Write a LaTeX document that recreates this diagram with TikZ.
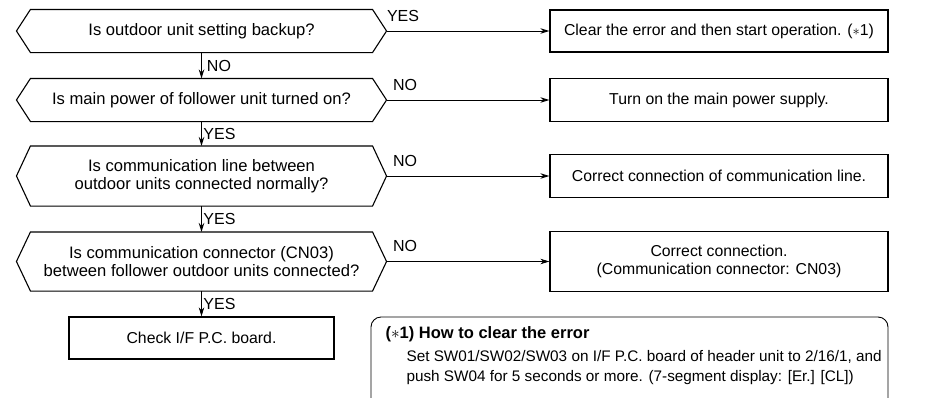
\documentclass[tikz,border=0pt]{standalone}
\usepackage{fontspec}
\setmainfont{Liberation Sans}
\usetikzlibrary{arrows.meta}
\begin{document}
\begin{tikzpicture}[x=1pt,y=-1pt,
  font=\fontsize{16.6}{18.5}\selectfont,
  line width=1.1pt,
  hexq/.style={minimum width=369pt, minimum height=#1, inner sep=0pt, align=center},
  rbox/.style={draw, line width=1.3pt, minimum width=338pt, minimum height=#1, inner sep=0pt, align=center, font=\fontsize{15.8}{18}\selectfont},
  arr/.style={line width=0.9pt, -{Stealth[length=9pt,width=5.5pt]}},
  lab/.style={font=\fontsize{16}{18}\selectfont, inner sep=0pt}]
\useasboundingbox (0,0) rectangle (948,397);
% decisions
\node[hexq=42pt] (h1) at (201.5,31) {Is outdoor unit setting backup?};
\node[hexq=42pt] (h2) at (201.5,100) {Is main power of follower unit turned on?};
\node[hexq=59pt] (h3) at (201.5,176) {Is communication line between\\outdoor units connected normally?};
\node[hexq=58pt] (h4) at (201.5,261.5) {Is communication connector (CN03)\\between follower outdoor units connected?};
\foreach \n in {h1,h2,h3,h4}
  \draw (\n.west) -- ([xshift=14pt]\n.north west) -- ([xshift=-14pt]\n.north east) -- (\n.east)
        -- ([xshift=-14pt]\n.south east) -- ([xshift=14pt]\n.south west) -- cycle;
% actions
\node[rbox=42pt] (b1) at (719,31) {Clear the error and then start operation. ($\ast$1)};
\node[rbox=43pt] (b2) at (719,100) {Turn on the main power supply.};
\node[rbox=43pt] (b3) at (719,176) {Correct connection of communication line.};
\node[rbox=60pt] (b4) at (719,261.5) {Correct connection.\\(Communication connector: CN03)};
\node[rbox=42pt, minimum width=265pt] (c) at (201.5,338) {Check I/F P.C. board.};
% vertical connectors
\draw[arr] (h1.south) -- (h2.north) node[midway, right, lab, xshift=5pt] {NO};
\draw[arr] (h2.south) -- (h3.north) node[midway, right, lab, xshift=1.5pt] {YES};
\draw[arr] (h3.south) -- (h4.north) node[midway, right, lab, xshift=1.5pt] {YES};
\draw[arr] (h4.south) -- (c.north) node[midway, right, lab, xshift=1.5pt] {YES};
% horizontal connectors
\draw[arr] (h1.east) -- (b1.west) node[pos=0, anchor=south west, lab, xshift=0pt, yshift=9pt] {YES};
\draw[arr] (h2.east) -- (b2.west) node[pos=0, anchor=south west, lab, xshift=6pt, yshift=9pt] {NO};
\draw[arr] (h3.east) -- (b3.west) node[pos=0, anchor=south west, lab, xshift=6pt, yshift=9pt] {NO};
\draw[arr] (h4.east) -- (b4.west) node[pos=0, anchor=south west, lab, xshift=6pt, yshift=9pt] {NO};
% note
\draw[line width=0.9pt, rounded corners=10pt] (371,420) -- (371,317) -- (888,317) -- (888,420);
\node[anchor=base west, inner sep=0pt, font=\bfseries\fontsize{16.5}{19}\selectfont] (nt) at (385,338) {($\ast$1) How to clear the error};
\node[anchor=base west, inner sep=0pt, font=\fontsize{15.3}{17}\selectfont] (n1) at (406,361) {Set SW01/SW02/SW03 on I/F P.C. board of header unit to 2/16/1, and};
\node[anchor=base west, inner sep=0pt, font=\fontsize{15.3}{17}\selectfont] (n2) at (406,381) {push SW04 for 5 seconds or more. (7-segment display: [Er.] [CL])};
\end{tikzpicture}
\end{document}
